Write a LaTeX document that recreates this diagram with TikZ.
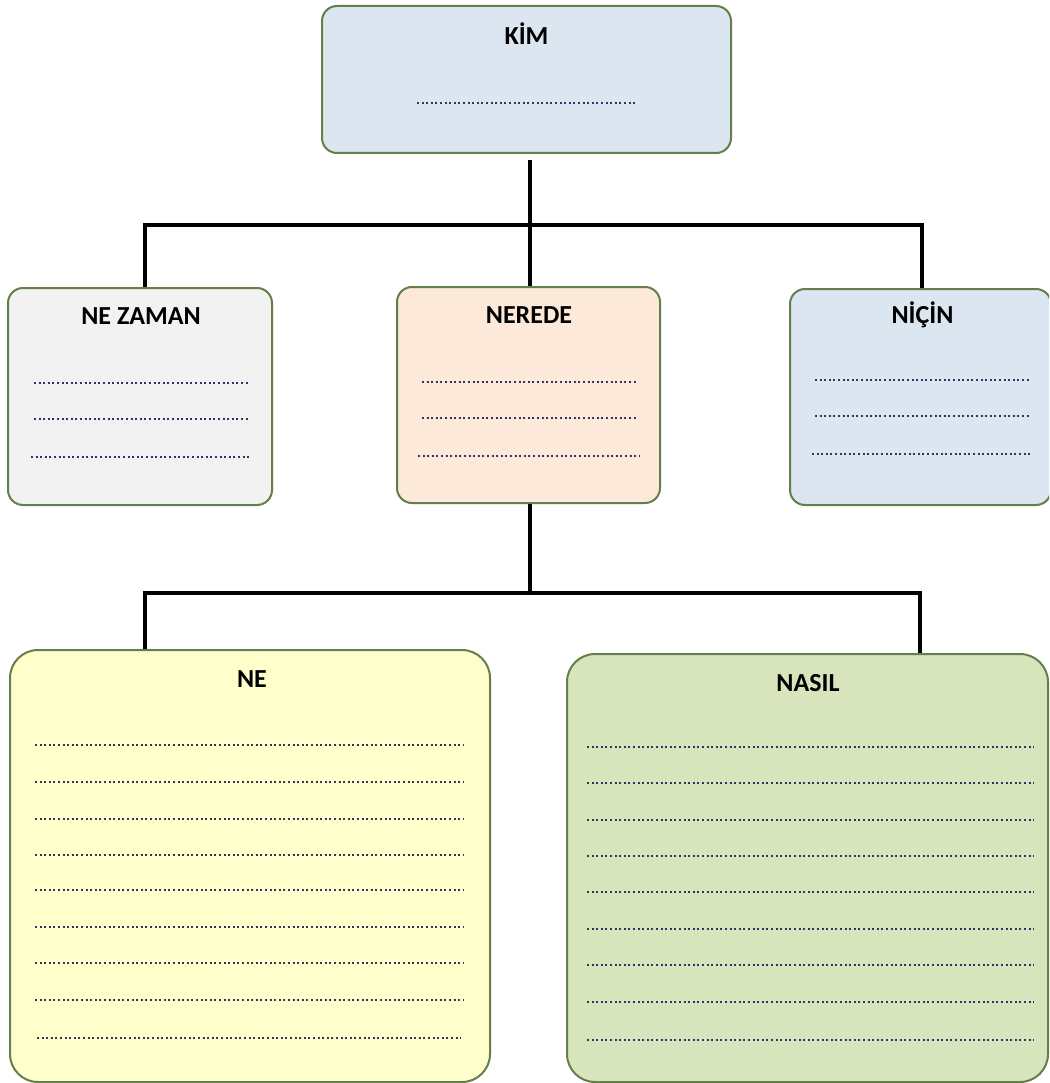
\documentclass[tikz,border=0pt]{standalone}
\usepackage{fontspec}
\setmainfont{Carlito}
\definecolor{bordergreen}{RGB}{100,126,76}
\definecolor{fillblue}{RGB}{220,230,241}
\definecolor{fillgray}{RGB}{242,242,242}
\definecolor{fillpeach}{RGB}{253,233,217}
\definecolor{fillyellow}{RGB}{255,255,204}
\definecolor{fillgreen}{RGB}{215,228,188}
\definecolor{dotcol}{RGB}{50,50,100}
\begin{document}
\begin{tikzpicture}[x=1pt,y=-1pt,
  box/.style={draw=bordergreen, line width=2pt, rounded corners=15pt, rectangle, inner sep=0pt},
  bigbox/.style={box, rounded corners=28pt},
  title/.style={font=\fontsize{26}{30}\selectfont\bfseries, anchor=base, text=black},
  dotline/.style={draw=dotcol, line width=2.2pt, dash pattern=on 2pt off 2.6pt},
  conn/.style={draw=black, line width=4pt}]
\clip (0,0) rectangle (1049,1083);
\fill[white] (0,0) rectangle (1049,1083);

% boxes
\node[box, fill=fillblue, minimum width=409pt, minimum height=147pt] (kim) at (526.5,79.5) {};
\node[box, fill=fillgray, minimum width=264pt, minimum height=217pt] (nezaman) at (140,396.5) {};
\node[box, fill=fillpeach, minimum width=263pt, minimum height=216pt] (nerede) at (528.5,395) {};
\node[box, fill=fillblue, minimum width=261pt, minimum height=216pt] (nicin) at (920.5,397) {};
\node[bigbox, fill=fillyellow, minimum width=480pt, minimum height=432pt] (ne) at (250,866) {};
\node[bigbox, fill=fillgreen, minimum width=481pt, minimum height=428pt] (nasil) at (807.5,868) {};

% titles
\node[title] (kimt) at (526.5,45) {KİM};
\node[title] (nezamant) at (141,324) {NE ZAMAN};
\node[title] (neredet) at (529,323) {NEREDE};
\node[title] (nicint) at (922.5,323) {NİÇİN};
\node[title] (net) at (252,687) {NE};
\node[title] (nasilt) at (808,691) {NASIL};

% dotted lines
\draw[dotline] (417,103) -- (637,103);
\draw[dotline] (34,383) -- (248,383);
\draw[dotline] (34,419) -- (248,419);
\draw[dotline] (31,457) -- (251,457);
\draw[dotline] (422,382) -- (636,382);
\draw[dotline] (422,418) -- (636,418);
\draw[dotline] (418,456) -- (639,456);
\draw[dotline] (815,380) -- (1029,380);
\draw[dotline] (815,416) -- (1029,416);
\draw[dotline] (812,454) -- (1032,454);
\foreach \yy in {745,782,819,855,890,927,963,1000}
  \draw[dotline] (35,\yy) -- (463,\yy);
\draw[dotline] (37,1038) -- (461,1038);
\foreach \yy in {747,783,820,856,892,929,965,1002,1040}
  \draw[dotline] (587,\yy) -- (1034,\yy);

% connectors
\coordinate (kimgap) at (530,160);
\coordinate (busA) at (530,225);
\coordinate (busAL) at (145,225);
\coordinate (busAR) at (922,225);
\coordinate (busB) at (530,593);
\coordinate (busBL) at (145,593);
\coordinate (busBR) at (920,593);
\draw[conn] (kimgap) -- (busA);
\draw[conn] ([xshift=-2pt]busAL) -- ([xshift=2pt]busAR);
\draw[conn] (busAL) -- (busAL |- nezaman.north);
\draw[conn] (busA) -- (busA |- nerede.north);
\draw[conn] (busAR) -- (busAR |- nicin.north);
\draw[conn] (busB |- nerede.south) -- (busB);
\draw[conn] ([xshift=-2pt]busBL) -- ([xshift=2pt]busBR);
\draw[conn] (busBL) -- (busBL |- ne.north);
\draw[conn] (busBR) -- (busBR |- nasil.north);
\end{tikzpicture}
\end{document}
